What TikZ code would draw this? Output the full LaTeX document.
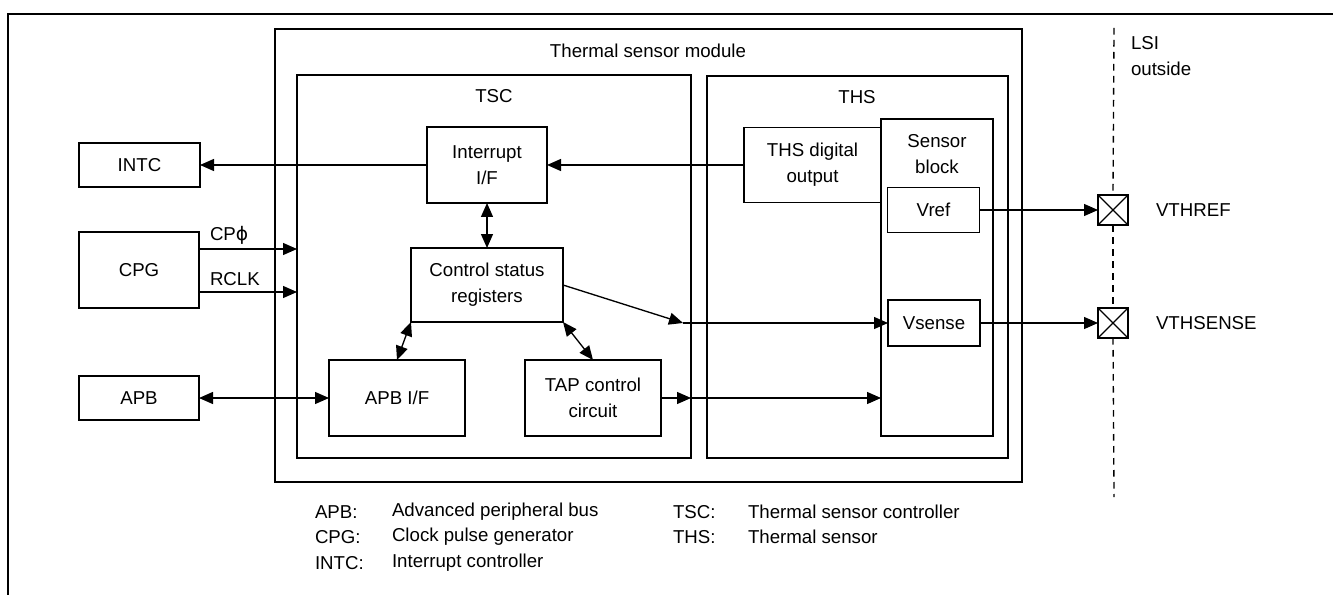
\documentclass[tikz,border=0pt]{standalone}
\usepackage{fontspec}
\setmainfont{Liberation Sans}
\newfontfamily\symfont{DejaVu Sans}
\usetikzlibrary{arrows.meta,calc}
\begin{document}
\begin{tikzpicture}[x=0.75pt,y=-0.75pt,
  font=\fontsize{14}{19.5}\selectfont,
  line width=1pt,
  box/.style={draw, inner sep=0pt, outer sep=0pt, align=center},
  lbl/.style={inner sep=0pt, outer sep=0pt, align=center},
  arr/.style={-{Triangle[length=10.5pt,width=9pt]}},
  darr/.style={{Triangle[length=10.5pt,width=9pt]}-{Triangle[length=10.5pt,width=9pt]}}]
\useasboundingbox (0,0) rectangle (1333,595);
% outer frame
\coordinate (fbl) at (8,595);
\coordinate (ftl) at (8,14);
\coordinate (ftr) at (1333,14);
\draw[line width=1.6pt] (fbl) -- (ftl) -- (ftr);
% containers
\node[box, minimum width=560.25pt, minimum height=339.75pt] (module) at (648.5,255.5) {};
\node[box, minimum width=295.5pt, minimum height=287.25pt] (tsc) at (494,266.5) {};
\node[box, minimum width=225.75pt, minimum height=286.5pt] (ths) at (857.5,267) {};
\node[lbl] (modlabel) at (648,51) {Thermal sensor module};
\node[lbl] (tsclabel) at (494,96) {TSC};
\node[lbl] (thslabel) at (857,97) {THS};
% external blocks
\node[box, minimum width=90.75pt, minimum height=33pt] (intc) at (139.5,165) {INTC};
\node[box, minimum width=90pt, minimum height=57pt] (cpg) at (139,270) {CPG};
\node[box, minimum width=90pt, minimum height=33pt] (apb) at (139,398) {APB};
% TSC blocks
\node[box, minimum width=90pt, minimum height=57pt] (intif) at (487,165) {Interrupt\\I/F};
\node[box, minimum width=114pt, minimum height=55.5pt] (csr) at (487,285) {Control status\\registers};
\node[box, minimum width=102pt, minimum height=57pt] (apbif) at (397,398) {APB I/F};
\node[box, minimum width=102pt, minimum height=57pt] (tap) at (593,398) {TAP control\\circuit};
% THS blocks
\node[box, minimum width=84pt, minimum height=237.75pt] (sensor) at (937,277.5) {};
\node[lbl] (sensorlabel) at (937,154) {Sensor\\block};
\node[box, minimum width=102.75pt, minimum height=56.25pt] (thsd) at (812.5,165) {THS digital\\output};
\node[box, minimum width=69pt, minimum height=33.75pt] (vref) at (933.5,210) {Vref};
\node[box, minimum width=69pt, minimum height=34.5pt] (vsense) at (934,323) {Vsense};
% pads
\node[box, minimum width=22.5pt, minimum height=22.5pt, fill=white] (pad1) at (1113,210) {};
\node[box, minimum width=22.5pt, minimum height=22.5pt, fill=white] (pad2) at (1113,323) {};
% dashed LSI boundary
\coordinate (dtop) at (1114,28);
\coordinate (dbot) at (1114,497);
\draw[dash pattern=on 5pt off 4pt] (dtop) -- (pad1.north);
\draw[dash pattern=on 5pt off 4pt] (pad1.south) -- (pad2.north);
\draw[dash pattern=on 5pt off 4pt] (pad2.south) -- (dbot);
\draw (pad1.north west) -- (pad1.south east) (pad1.north east) -- (pad1.south west);
\draw (pad2.north west) -- (pad2.south east) (pad2.north east) -- (pad2.south west);
\node[lbl, anchor=west, align=left] (lsi) at (1131,56) {LSI\\outside};
\node[lbl, anchor=west] (vthref) at (1156,210) {VTHREF};
\node[lbl, anchor=west] (vthsense) at (1156,323) {VTHSENSE};
% connectors
\draw[arr] (thsd.west) -- (intif.east);
\draw[arr] (intif.west) -- (intc.east);
\draw[arr] (cpg.east |- 0,249) -- (tsc.west |- 0,249);
\draw[arr] (cpg.east |- 0,292) -- (tsc.west |- 0,292);
\node[lbl, anchor=west] (cpphi) at (210,235) {CP{\symfont ϕ}};
\node[lbl, anchor=west] (rclk) at (210,279) {RCLK};
\draw[darr] (apb.east) -- (apbif.west);
\draw[darr] (intif.south) -- (csr.north);
\draw[darr] (csr.south west) -- (apbif.north);
\draw[darr] (csr.south east) -- (tap.north);
\coordinate (mid) at (683,323);
\draw[arr] (csr.east) -- (mid);
\draw[arr] (mid) -- (vsense.west);
\draw[arr] (tap.east) -- (tsc.east |- tap.east);
\draw[arr] (tsc.east |- tap.east) -- (sensor.west |- tap.east);
\draw[arr] (vref.east) -- (pad1.west);
\draw[arr] (vsense.east) -- (pad2.west);
% legend
\node[lbl, anchor=west] (l1a) at (315,512) {APB:};
\node[lbl, anchor=west] (l1b) at (392,512) {Advanced peripheral bus};
\node[lbl, anchor=west] (l2a) at (315,537) {CPG:};
\node[lbl, anchor=west] (l2b) at (392,537) {Clock pulse generator};
\node[lbl, anchor=west] (l3a) at (315,563) {INTC:};
\node[lbl, anchor=west] (l3b) at (392,563) {Interrupt controller};
\node[lbl, anchor=west] (l4a) at (673,512) {TSC:};
\node[lbl, anchor=west] (l4b) at (748,512) {Thermal sensor controller};
\node[lbl, anchor=west] (l5a) at (673,537) {THS:};
\node[lbl, anchor=west] (l5b) at (748,537) {Thermal sensor};
\end{tikzpicture}
\end{document}
